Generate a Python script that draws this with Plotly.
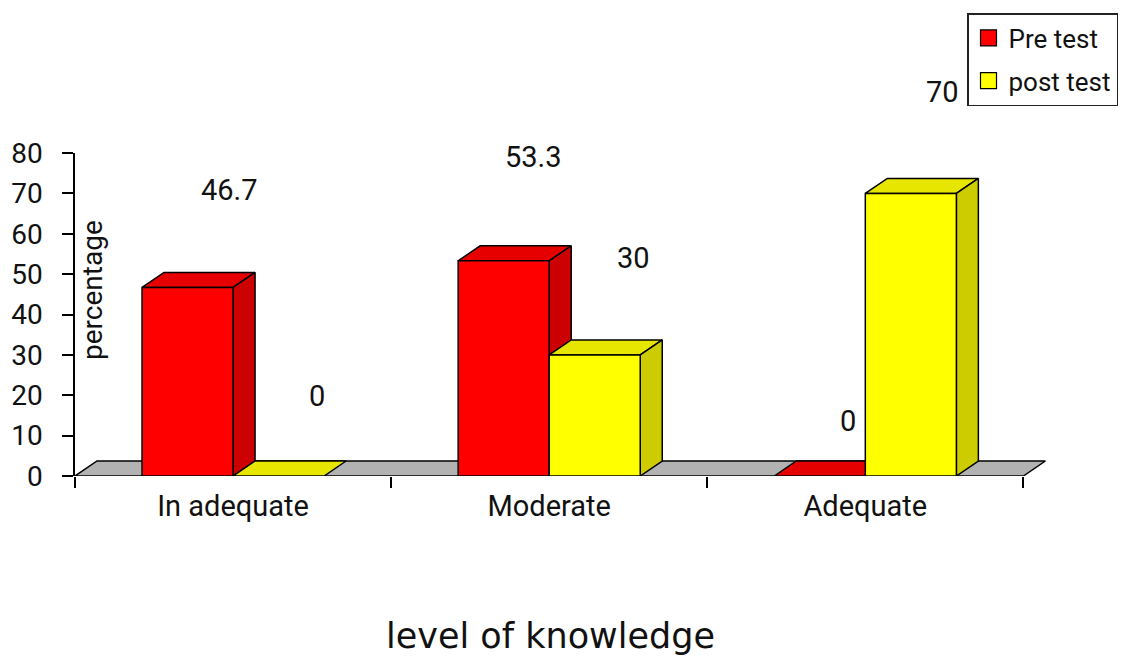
import plotly.graph_objects as go

# ---- data -------------------------------------------------------------
categories = ["In adequate", "Moderate", "Adequate"]
pre_test = [46.7, 53.3, 0]
post_test = [0, 30, 70]
series_names = ["Pre test", "post test"]
y_ticks = [0, 10, 20, 30, 40, 50, 60, 70, 80]

# ---- styling / geometry ---------------------------------------------
W, H = 1129, 662
M_L, M_R, M_T, M_B = 75, 74, 153, 186
X_RANGE = [-0.5, 2.6]
Y_RANGE = [0, 80]
BAR_W = 0.288            # width of each bar in category units
DEPTH_PX = (22, 15)      # oblique depth of the pseudo-3D boxes, in pixels

px_per_x = (W - M_L - M_R) / (X_RANGE[1] - X_RANGE[0])
px_per_y = (H - M_T - M_B) / (Y_RANGE[1] - Y_RANGE[0])
DX = DEPTH_PX[0] / px_per_x
DY = DEPTH_PX[1] / px_per_y

colors = {
    "Pre test": {"front": "#FF0000", "top": "#E60000", "side": "#CC0000"},
    "post test": {"front": "#FFFF00", "top": "#E6E600", "side": "#CCCC00"},
}
FLOOR = "#B2B2B2"
EDGE = "#000000"
FONT = "Roboto"
TEXT = "#111111"

# value-label nudges (pixels) for each series, per category
label_shift = {
    "Pre test": [(42, 97), (30, 104), (28, 55)],
    "post test": [(38, 80), (39, 97), (32, 101)],
}


def polys_to_xy(polys):
    xs, ys = [], []
    for poly in polys:
        for (px, py) in poly + [poly[0]]:
            xs.append(px)
            ys.append(py)
        xs.append(None)
        ys.append(None)
    return xs, ys


def face_trace(polys, fill):
    xs, ys = polys_to_xy(polys)
    return go.Scatter(
        x=xs, y=ys, mode="lines", fill="toself", fillcolor=fill,
        line=dict(color=EDGE, width=1.5), hoverinfo="skip", showlegend=False,
    )


fig = go.Figure()

# floor of the chart
n = len(categories)
x0, x1 = -0.5, n - 0.5
floor = [[(x0, 0), (x1, 0), (x1 + DX, DY), (x0 + DX, DY)]]
fig.add_trace(face_trace(floor, FLOOR))

# boxes: pre test sits left of the category centre, post test right of it
for name, values, offset in [("Pre test", pre_test, -BAR_W), ("post test", post_test, 0.0)]:
    tops, sides, fronts = [], [], []
    for i, v in enumerate(values):
        l = i + offset
        r = l + BAR_W
        tops.append([(l, v), (r, v), (r + DX, v + DY), (l + DX, v + DY)])
        if v > 0:
            sides.append([(r, 0), (r + DX, DY), (r + DX, v + DY), (r, v)])
            fronts.append([(l, 0), (r, 0), (r, v), (l, v)])
    fig.add_trace(face_trace(tops, colors[name]["top"]))
    if sides:
        fig.add_trace(face_trace(sides, colors[name]["side"]))
    if fronts:
        fig.add_trace(face_trace(fronts, colors[name]["front"]))

    # value labels
    for i, v in enumerate(values):
        sx, sy = label_shift[name][i]
        fig.add_annotation(
            x=i + offset + BAR_W / 2, y=v, xref="x", yref="y",
            text=f"{v:g}", showarrow=False, xshift=sx, yshift=sy,
            xanchor="center", yanchor="middle",
            font=dict(family=FONT, size=29, color=TEXT),
        )

# legend entries
for name in series_names:
    fig.add_trace(go.Scatter(
        x=[None], y=[None], mode="markers", name=name, legendgroup=name,
        marker=dict(symbol="square", size=17, color=colors[name]["front"],
                    line=dict(color=EDGE, width=1.2)),
    ))

# helper trace so the boundary-tick axis is drawn
fig.add_trace(go.Scatter(x=[None], y=[None], xaxis="x2", showlegend=False, hoverinfo="skip"))

fig.update_layout(
    width=W, height=H,
    margin=dict(l=M_L, r=M_R, t=M_T, b=M_B, autoexpand=False),
    paper_bgcolor="white", plot_bgcolor="white",
    font=dict(family=FONT, color=TEXT),
    xaxis=dict(
        range=X_RANGE, tickvals=list(range(n)), ticktext=categories,
        ticks="", showline=False, showgrid=False, zeroline=False,
        tickfont=dict(family=FONT, size=29, color=TEXT),
        ticklabelstandoff=10,
    ),
    xaxis2=dict(
        range=X_RANGE, overlaying="x", anchor="y", side="bottom",
        tickvals=[k - 0.5 for k in range(n + 1)], showticklabels=False,
        ticks="outside", ticklen=11, tickwidth=1.5, tickcolor=EDGE,
        showline=False, showgrid=False, zeroline=False,
    ),
    yaxis=dict(
        range=Y_RANGE, tickvals=y_ticks, ticks="outside", ticklen=11,
        tickwidth=1.5, tickcolor=EDGE, showline=True, linecolor=EDGE,
        linewidth=1.5, showgrid=False, zeroline=False,
        tickfont=dict(family=FONT, size=28, color=TEXT),
        ticklabelstandoff=14,
    ),
    legend=dict(
        x=(967 - M_L) / (W - M_L - M_R), y=(H - M_B - 13) / (H - M_T - M_B),
        xanchor="left", yanchor="top",
        bgcolor="white", bordercolor="#222", borderwidth=1.5,
        font=dict(family=FONT, size=26, color=TEXT),
        itemwidth=30, tracegroupgap=6,
    ),
    showlegend=True,
)

# axis titles
fig.add_annotation(
    xref="x", yref="y",
    x=X_RANGE[0] + (92 - M_L) / px_per_x, y=(H - M_B - 290) / px_per_y,
    text="percentage", showarrow=False, textangle=-90,
    font=dict(family=FONT, size=28, color=TEXT),
)
fig.add_annotation(
    x=0.4857, y=-0.495, xref="paper", yref="paper", text="level of knowledge",
    showarrow=False, xanchor="center", yanchor="middle",
    font=dict(family="DejaVu Sans", size=35, color=TEXT),
)

fig.write_html("out.html")
